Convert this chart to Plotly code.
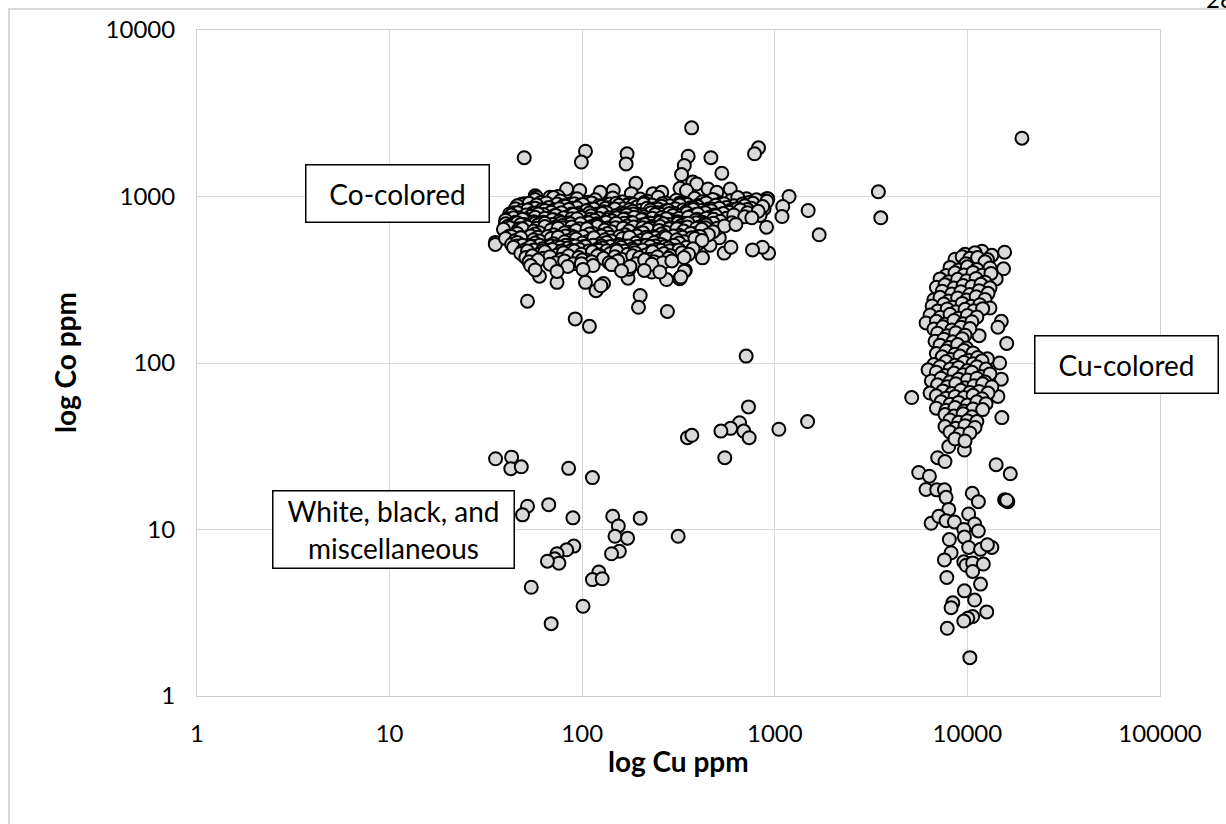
import plotly.graph_objects as go

# ---------------- data (Cu ppm, Co ppm) ----------------
x_tick_vals = [1, 10, 100, 1000, 10000, 100000]
x_tick_text = ["1", "10", "100", "1000", "10000", "100000"]
y_tick_vals = [1, 10, 100, 1000, 10000]
y_tick_text = ["1", "10", "100", "1000", "10000"]

# Co-colored group: scattered / edge points (Cu, Co)
co_colored_edge = [
    (35.4, 530), (35.4, 515), (50, 1710), (104, 1870), (99, 1610), (171, 1805), (169, 1570),
    (370, 2585), (355, 1745), (339, 1535), (328, 1355), (190, 1200), (52, 235), (60, 332),
    (74, 305), (92, 184), (109, 166), (104, 305), (118, 272), (129, 300), (125, 291),
    (200, 254), (196, 216), (173, 323), (175, 366), (277, 204), (274, 317), (321, 321),
    (343, 360), (230, 352), (259, 403), (466, 1710), (531, 1380), (823, 1960), (785, 1805),
    (587, 1110), (1186, 1000), (1490, 824), (1700, 589), (3450, 1067), (3550, 745),
    (1100, 871), (1090, 758), (906, 968), (906, 654), (928, 457), (863, 496), (766, 478),
    (546, 457), (515, 565), (421, 428), (339, 356), (325, 328),
    (83, 1110), (97, 1087), (124, 1060), (145, 1087), (180, 1040), (233, 1040), (259, 1060),
    (322, 1120), (375, 1220), (393, 1190), (450, 1110), (348, 1087), (500, 1060), (57, 1010),
    (68, 990), (75, 1000), (491, 946),
    (608, 946), (673, 920), (713, 968), (758, 920), (804, 860), (860, 900), (920, 968),
    (880, 845), (838, 770), (770, 787), (727, 758), (659, 824), (630, 750), (608, 824), (519, 735),
    (332, 520), (376, 510), (400, 520), (461, 510), (592, 496), (325, 474),
    (43.9, 597), (43, 545), (46.5, 640), (49.5, 455), (51, 435), (53.6, 860), (58, 990),
    (53.6, 750), (44.8, 610), (45.6, 545), (50.3, 435), (51, 824),
]

# Co-colored group: dense core read band by band (Cu values, Co values)
co_core_cu = [
    [50, 57, 61, 71, 77, 87, 94, 107, 117, 133, 144, 162, 176, 200, 219, 248, 272, 308, 336, 384, 420, 476, 524, 592, 642, 733, 802, 910],
    [48, 53, 60, 65, 74, 80, 91, 98, 112, 122, 139, 150, 170, 185, 210, 230, 260, 285, 320, 352, 400, 440, 500, 545, 615, 680, 770],
    [46, 54, 58, 67, 72, 82, 89, 101, 111, 126, 136, 155, 168, 192, 208, 239, 258, 296, 321, 366, 398, 453, 492, 562, 612, 698, 756, 865],
    [45, 49, 57, 62, 70, 76, 87, 94, 106, 115, 132, 142, 163, 176, 200, 217, 248, 270, 305, 334, 378, 415, 470, 515, 580, 640, 720],
    [44, 52, 55, 64, 69, 78, 85, 97, 105, 120, 129, 148, 160, 183, 197, 226, 245, 280, 303, 346, 377, 430, 468, 534, 580, 662, 722, 820],
    [42, 46, 51, 57, 63, 72, 78, 88, 96, 109, 121, 134, 150, 166, 184, 206, 228, 256, 283, 314, 350, 390, 435, 485, 540],
    [43, 47, 54, 59, 68, 73, 83, 90, 103, 111, 127, 137, 157, 170, 193, 209, 239, 259, 296, 321, 367, 398, 456, 494, 562, 612, 698, 760],
    [41, 44, 51, 57, 64, 71, 80, 88, 98, 110, 122, 135, 151, 168, 186, 207, 231, 257, 286, 318, 355, 395, 440],
    [40, 45, 49, 56, 61, 70, 76, 86, 94, 108, 116, 133, 143, 164, 178, 203, 220, 251, 273, 312, 339, 387, 420, 481, 522, 598],
    [40, 46, 50, 57, 63, 70, 78, 87, 96, 108, 119, 133, 148, 165, 183, 204, 227, 253, 282, 314, 348, 390, 432, 480],
    [41, 48, 51, 59, 64, 73, 79, 90, 98, 112, 120, 138, 150, 171, 185, 212, 230, 264, 286, 327, 355, 405, 440, 503, 548, 628],
    [42, 47, 52, 58, 64, 71, 79, 88, 97, 108, 120, 134, 149, 166, 185, 206, 228, 254, 283, 316, 352, 392, 436],
    [39, 46, 49, 56, 60, 69, 75, 85, 93, 106, 114, 131, 142, 163, 175, 202, 219, 251, 271, 310, 337, 385, 418, 478],
    [42, 46, 53, 57, 65, 71, 81, 88, 100, 109, 125, 135, 154, 167, 191, 207, 237, 258, 294, 319, 365, 397, 452],
    [43, 48, 54, 59, 66, 74, 82, 91, 101, 113, 126, 140, 156, 173, 193, 215, 240, 267, 298, 331, 370, 410],
    [40, 45, 48, 56, 60, 69, 75, 85, 93, 106, 115, 131, 142, 162, 176, 202, 219, 250, 272, 310, 338, 385, 419],
    [43, 46, 53, 57, 66, 71, 81, 88, 100, 109, 124, 134, 154, 167, 190, 207, 237, 257, 294, 319],
    [46, 49, 56, 60, 69, 74, 82, 92, 102, 114, 126, 140, 157, 174, 194, 216, 240, 268, 300],
    [44, 51, 54, 62, 67, 77, 84, 95, 104, 119, 128, 147, 159, 182, 197, 225, 245, 280, 303, 347, 376],
    [49, 56, 62, 70, 78, 88, 97, 108, 122, 134, 150, 166, 186, 206, 230, 256, 285, 318],
    [48, 52, 60, 64, 74, 80, 91, 99, 113, 122, 140, 151, 172, 188, 214, 232, 266, 288, 330, 357],
    [51, 55, 63, 68, 78, 85, 96, 105, 120, 129, 148, 160, 183, 198, 226, 246, 281, 338],
    [53, 59, 73, 81, 90, 100, 112, 138, 153, 190, 211, 236, 262, 292],
    [54, 68, 84, 99, 114, 142, 177, 230],
    [57, 74, 101, 160, 210, 253],
]
co_core_co = [
    [905, 960, 920, 985, 940, 900, 970, 925, 955, 895, 980, 930, 910, 965, 935, 990, 915, 950, 900, 975, 930, 960, 905, 945, 985, 920, 955, 935],
    [895, 910, 885, 915, 900, 880, 905, 890, 915, 880, 900, 910, 885, 895, 920, 890, 905, 880, 910, 895, 885, 915, 890, 905, 880, 900, 910],
    [880, 845, 890, 860, 830, 875, 850, 895, 840, 870, 855, 885, 835, 865, 900, 845, 875, 830, 890, 855, 870, 840, 885, 860, 835, 880, 850, 870],
    [845, 825, 850, 835, 820, 845, 830, 855, 825, 840, 850, 820, 845, 835, 825, 850, 840, 820, 845, 830, 855, 825, 840, 850, 820, 845, 835],
    [800, 830, 790, 825, 805, 780, 835, 795, 820, 785, 810, 840, 795, 815, 780, 830, 800, 825, 790, 810, 835, 795, 820, 785, 805, 830, 800, 815],
    [785, 800, 775, 795, 780, 770, 800, 785, 775, 795, 780, 800, 770, 790, 785, 775, 800, 780, 790, 770, 795, 780, 800, 775, 790],
    [775, 745, 760, 785, 740, 770, 750, 780, 735, 765, 790, 745, 760, 775, 740, 755, 780, 745, 770, 735, 760, 785, 750, 765, 740, 775, 755, 745],
    [735, 745, 730, 750, 740, 725, 745, 735, 750, 730, 740, 725, 745, 735, 750, 730, 740, 745, 725, 740, 750, 730, 740],
    [720, 700, 730, 705, 690, 725, 710, 695, 735, 700, 720, 690, 715, 730, 700, 725, 695, 710, 735, 705, 690, 720, 700, 730, 710, 695],
    [685, 695, 680, 690, 700, 680, 695, 685, 675, 695, 685, 700, 680, 690, 695, 675, 690, 700, 680, 690, 675, 695, 685, 690],
    [660, 680, 650, 675, 690, 655, 670, 645, 685, 660, 675, 650, 690, 665, 640, 680, 660, 685, 650, 670, 690, 655, 675, 645, 665, 680],
    [650, 640, 655, 645, 660, 640, 650, 655, 640, 650, 660, 645, 650, 640, 655, 650, 645, 660, 640, 650, 655, 645, 650],
    [635, 615, 640, 620, 605, 630, 645, 610, 625, 640, 600, 630, 615, 645, 620, 605, 635, 625, 610, 640, 620, 600, 635, 615],
    [580, 600, 575, 595, 570, 590, 605, 580, 565, 595, 585, 600, 570, 590, 580, 605, 575, 595, 565, 585, 600, 575, 590],
    [575, 565, 580, 570, 575, 565, 580, 570, 575, 560, 580, 570, 575, 565, 580, 570, 565, 575, 580, 570, 565, 575],
    [560, 545, 565, 550, 540, 560, 570, 545, 555, 535, 565, 550, 540, 560, 570, 545, 555, 540, 565, 550, 535, 560, 545],
    [515, 530, 510, 525, 505, 520, 535, 510, 525, 500, 520, 530, 515, 505, 525, 510, 530, 515, 505, 525],
    [505, 510, 500, 510, 505, 500, 510, 505, 500, 510, 505, 500, 510, 505, 500, 510, 505, 500, 510],
    [495, 480, 500, 485, 475, 495, 490, 470, 500, 480, 490, 475, 495, 485, 470, 500, 480, 490, 475, 495, 485],
    [470, 478, 472, 480, 470, 475, 480, 470, 476, 472, 480, 470, 475, 478, 470, 476, 472, 478],
    [455, 470, 450, 465, 445, 460, 470, 450, 465, 445, 455, 470, 450, 460, 445, 465, 455, 440, 460, 450],
    [430, 440, 425, 435, 420, 440, 430, 415, 440, 425, 435, 420, 440, 430, 420, 435, 425, 430],
    [405, 415, 400, 410, 395, 415, 405, 400, 410, 395, 415, 405, 400, 410],
    [385, 392, 380, 395, 385, 390, 380, 392],
    [362, 355, 365, 358, 360, 352],
]

# Cu-colored group: scattered / edge points (Cu, Co)
cu_colored_edge = [
    (11900, 469), (13400, 443), (15600, 463), (15400, 368), (8800, 408), (14100, 320),
    (15000, 178), (14400, 164), (16000, 131), (14700, 100), (15000, 80), (14400, 63),
    (15100, 47), (11500, 146), (19200, 2240),
    (8000, 31.5), (9650, 30), (7010, 27), (7650, 25.6), (5590, 22), (14100, 24.5), (16700, 21.6),
    (6350, 20.9), (6100, 17.4), (6930, 17.3), (7600, 17.3), (7750, 15.6), (8000, 13.2),
    (6480, 10.9), (7100, 12), (7750, 11.3), (8560, 11.1), (10150, 12.4), (10900, 10.8),
    (11400, 9.8), (9580, 10), (9650, 9.0), (8060, 8.7), (10600, 16.5), (11400, 14.7),
    (15600, 15.1), (15900, 14.9), (16200, 14.7), (16000, 15.0), (10150, 7.8), (13400, 7.8),
    (11700, 7.6), (12700, 8.1), (8230, 7.25), (7600, 6.57), (9580, 6.4), (9850, 6.1),
    (10650, 6.3), (10650, 5.6), (12100, 6.2), (7820, 5.15), (11700, 4.7), (9650, 4.28),
    (10900, 3.77), (8400, 3.63), (8230, 3.39), (12600, 3.2), (10650, 3.0), (10050, 2.93),
    (9580, 2.82), (7860, 2.55), (10300, 1.7),
]

# Cu-colored group: dense part read band by band (Cu values, Co values)
cu_core_cu = [
    [9720, 10950],
    [8625, 9400, 10300, 11300, 12700],
    [9830, 12340],
    [8125, 9000, 10000, 11200, 13100],
    [7750, 8625, 9600, 10700, 11900, 13250],
    [7210, 8000, 8900, 9900, 11100, 12340],
    [6900, 7650, 8520, 9500, 10550, 11750, 13100],
    [7400, 8300, 9250, 10300, 11500, 12800],
    [6700, 7210, 8000, 8900, 9900, 11100, 12340],
    [6560, 7550, 8400, 9400, 10450, 11600, 13100],
    [7000, 7850, 8700, 9720, 10800, 12000],
    [6400, 7210, 8125, 9000, 10000, 11200],
    [6100, 6900, 7650, 8520, 9500, 10550],
    [6700, 7460, 8300, 9250, 10300],
    [7000, 7850, 8700, 9720],
    [6790, 7550, 8400, 9400],
    [7210, 8000, 8900, 9900],
    [6900, 7750, 8625, 9600, 10700],
    [7400, 8200, 9150, 10150, 11300, 12700],
    [6700, 7750, 8625, 9600, 10700, 11900],
    [6250, 7210, 8125, 9000, 10000, 11200, 12500],
    [6900, 7650, 8520, 9500, 10550, 11750, 13100],
    [6500, 7300, 8125, 9000, 10000, 11200, 12340],
    [7000, 7850, 8700, 9720, 10800, 12000, 13400],
    [6400, 7460, 8300, 9250, 10300, 11500, 12800],
    [5140, 6900, 7750, 8625, 9600, 10700, 11900],
    [7300, 8125, 9000, 10000, 11200, 12500],
    [6900, 7750, 8625, 9600, 10700, 12000],
    [7650, 8520, 9500, 10550],
    [8125, 9000, 10000, 11200],
    [7650, 8700, 9720, 10950],
    [8125, 9150, 10300],
    [8625, 9720],
]
cu_core_co = [
    [450, 460],
    [420, 435, 425, 430, 418],
    [395, 405],
    [375, 362, 378, 365, 372],
    [335, 348, 338, 350, 336, 345],
    [320, 308, 318, 312, 322, 306],
    [285, 295, 282, 292, 288, 297, 283],
    [270, 260, 268, 258, 272, 262],
    [240, 248, 236, 246, 239, 250, 241],
    [220, 226, 216, 228, 219, 224, 214],
    [205, 211, 203, 210, 206, 212],
    [194, 188, 196, 186, 193, 189],
    [174, 178, 171, 180, 172, 177],
    [160, 165, 158, 164, 161],
    [151, 146, 152, 147],
    [135, 139, 134, 140],
    [128, 124, 129, 123],
    [114, 118, 113, 119, 115],
    [109, 105, 110, 104, 108, 106],
    [98, 102, 97, 101, 99, 103],
    [91, 95, 92, 94, 90, 95, 92],
    [88, 84, 87, 85, 88, 83, 86],
    [78, 81, 77, 80, 79, 81, 77],
    [74, 72, 75, 71, 73, 75, 72],
    [66, 68, 65.5, 68.5, 66.5, 67.5, 66],
    [62, 63.5, 61.5, 63, 62, 64, 61],
    [58.5, 56.5, 58, 56, 58.5, 57],
    [53.5, 52, 54, 51.5, 53, 52.5],
    [49, 48, 49.5, 47.5],
    [45.5, 44, 45, 44.5],
    [41.5, 40.5, 42, 41],
    [38.5, 37.5, 38],
    [35, 34],
]

# White, black, and miscellaneous group (Cu, Co)
misc_points = [
    (710, 110), (730, 54.5), (656, 43.8), (690, 39), (736, 35.6), (590, 40.5), (525, 39),
    (550, 27), (352, 35.6), (371, 36.8), (1050, 40), (1480, 44.5), (35.5, 26.6), (43, 27.2),
    (42.6, 23.2), (48.3, 23.8), (85, 23.3), (113, 20.5), (52, 13.8), (49, 12.25), (67, 14.1),
    (89.5, 11.75), (144, 12), (154, 10.5), (148, 9.1), (172, 8.87), (200, 11.7), (315, 9.1),
    (156, 7.4), (142, 7.15), (90.5, 7.95), (83, 7.55), (74, 7.15), (72, 6.67), (75.7, 6.28),
    (66, 6.45), (54.4, 4.5), (122, 5.55), (113, 5.0), (127, 5.06), (101, 3.46), (69, 2.72),
]


def combine(edge, core_cu, core_co):
    cu = [p[0] for p in edge]
    co = [p[1] for p in edge]
    for row_cu, row_co in zip(core_cu, core_co):
        for a, b in zip(row_cu, row_co):
            cu.append(a)
            co.append(b)
    return cu, co


co_cu, co_co = combine(co_colored_edge, co_core_cu, co_core_co)
cuc_cu, cuc_co = combine(cu_colored_edge, cu_core_cu, cu_core_co)
misc_cu = [p[0] for p in misc_points]
misc_co = [p[1] for p in misc_points]

FONT = "Lato, 'Open Sans', sans-serif"
marker = dict(size=13, color="#d9d9d9", line=dict(color="black", width=2))

fig = go.Figure()
for name, xs, ys in [("Co-colored", co_cu, co_co),
                     ("Cu-colored", cuc_cu, cuc_co),
                     ("White, black, and miscellaneous", misc_cu, misc_co)]:
    fig.add_trace(go.Scatter(x=xs, y=ys, mode="markers", name=name,
                             marker=marker, showlegend=False, hoverinfo="x+y"))

axis_common = dict(
    type="log", showgrid=True, gridcolor="#d9d9d9", gridwidth=1,
    showline=True, linecolor="#d0d0d0", linewidth=1, mirror=True,
    zeroline=False, ticks="outside", ticklen=16, tickcolor="rgba(0,0,0,0)",
    tickfont=dict(family=FONT, size=24, color="black"),
)
fig.update_xaxes(range=[0, 5], tickvals=x_tick_vals, ticktext=x_tick_text, **axis_common)
fig.update_yaxes(range=[0, 4], tickvals=y_tick_vals, ticktext=y_tick_text, **axis_common)

box = dict(showarrow=False, xref="paper", yref="paper", xanchor="center", yanchor="middle",
           bordercolor="black", borderwidth=1.5, borderpad=0, bgcolor="white",
           font=dict(family=FONT, size=28, color="black"))
fig.add_annotation(text="Co-colored", x=0.2087, y=0.7545, width=182, height=56, **box)
fig.add_annotation(text="Cu-colored", x=0.9657, y=0.4977, width=182, height=56, **box)
fig.add_annotation(text="White, black, and<br>miscellaneous", x=0.2038, y=0.2497,
                   width=240, height=76, **box)

title_font = dict(family=FONT, size=28, color="black")
fig.add_annotation(text="<b>log Cu ppm</b>", x=0.4995, y=-0.0976, xref="paper", yref="paper",
                   xanchor="center", yanchor="middle", showarrow=False, font=title_font)
fig.add_annotation(text="<b>log Co ppm</b>", x=-0.1371, y=0.5015, xref="paper", yref="paper",
                   xanchor="center", yanchor="middle", showarrow=False, textangle=-90,
                   font=title_font)
# page number, cut off at the top edge as in the reference
fig.add_annotation(text="28", x=1.0455, y=1.0225, xref="paper", yref="paper", showarrow=False,
                   xanchor="left", yanchor="bottom", font=dict(family=FONT, size=24, color="black"))

# outer page frame
fig.add_shape(type="rect", xref="paper", yref="paper", x0=-0.1952, x1=1.08, y0=-0.21, y1=1.0315,
              line=dict(color="#d9d9d9", width=2), layer="below")

fig.update_layout(
    width=1226, height=824,
    margin=dict(l=197, r=66, t=30, b=128),
    paper_bgcolor="white", plot_bgcolor="white",
    font=dict(family=FONT, color="black"),
)

fig.write_html("out.html", config={"displayModeBar": False},
               post_script="document.body.style.margin='0';document.body.style.overflow='hidden';")
